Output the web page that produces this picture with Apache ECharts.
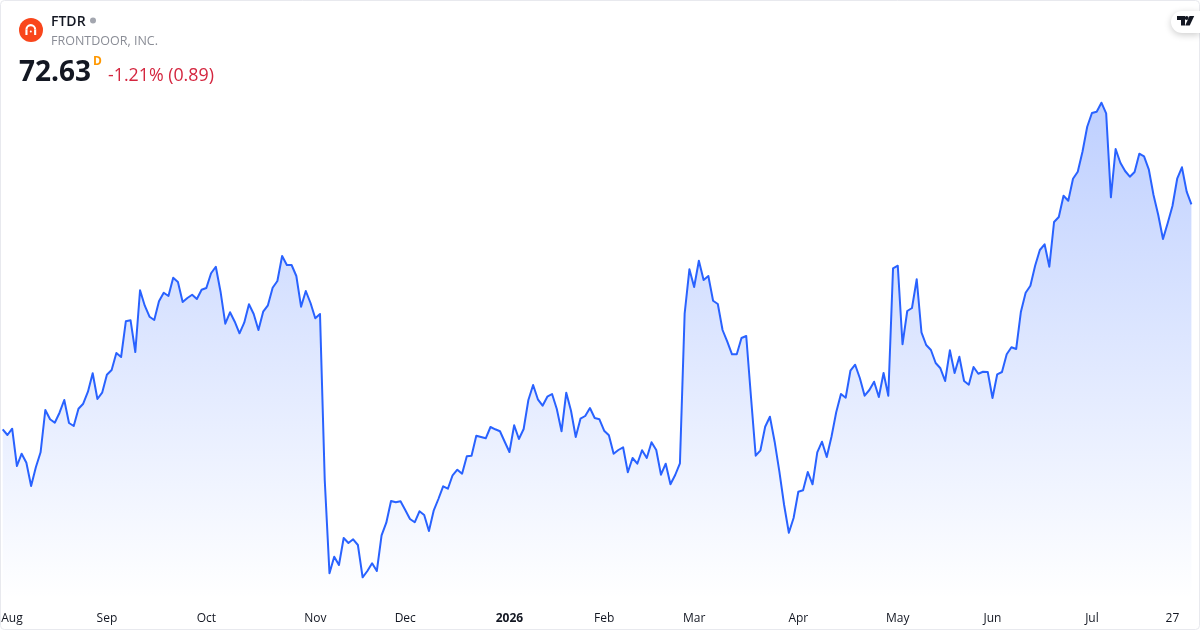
<!DOCTYPE html>
<html>
<head>
<meta charset="utf-8">
<style>html,body{margin:0;padding:0;background:#fff}#c{width:1200px;height:630px}</style>
<script src="https://cdn.jsdelivr.net/npm/echarts@6/dist/echarts.min.js"></script>
</head>
<body>
<div id="c"></div>
<script>
const prices = [
56.88,56.48,56.92,54.31,55.17,54.54,52.91,54.22,55.27,58.23,57.58,57.34,58.04,58.93,57.32,57.11,58.32,58.67,59.51,60.80,
59.00,59.44,60.70,61.03,62.22,61.94,64.44,64.51,62.29,66.61,65.53,64.76,64.53,65.84,66.44,66.21,67.49,67.19,65.79,66.07,
66.30,66.00,66.65,66.77,67.80,68.26,66.51,64.27,65.07,64.41,63.60,64.34,65.63,64.95,63.83,65.11,65.56,66.79,67.26,69.01,
68.38,68.38,67.61,65.46,66.56,65.72,64.65,64.95,53.33,46.80,47.96,47.38,49.27,48.92,49.18,48.78,46.52,46.96,47.50,46.96,
49.46,50.34,51.86,51.77,51.84,51.23,50.60,50.37,51.14,50.88,49.76,51.18,52.00,52.89,52.72,53.66,54.05,53.77,54.99,55.03,
56.43,56.34,56.25,57.04,56.88,56.74,56.01,55.29,57.16,56.20,56.90,58.93,59.98,58.98,58.53,59.16,59.35,58.30,56.74,59.44,
58.18,56.34,57.62,57.81,58.37,57.67,57.58,56.78,56.46,55.17,55.43,55.62,53.87,54.87,54.47,55.41,54.87,55.97,55.43,53.70,
54.47,53.03,53.68,54.50,65.00,68.08,66.84,68.68,67.33,67.61,65.88,65.65,63.83,63.01,62.13,62.13,63.27,63.41,59.16,55.03,
55.41,57.06,57.76,56.01,53.91,51.58,49.64,50.67,52.51,52.61,53.89,53.03,55.27,56.01,54.94,56.36,58.07,59.35,59.09,60.98,
61.40,60.45,59.23,59.63,60.21,59.14,60.82,59.23,68.15,68.33,62.83,65.16,65.37,67.38,63.67,62.78,62.43,61.52,61.15,60.26,
62.41,60.82,61.96,60.26,60.00,61.24,60.77,60.91,60.89,59.07,60.73,60.89,62.13,62.62,62.50,65.11,66.44,66.93,68.33,69.43,
69.83,68.26,71.39,71.74,73.23,72.88,74.42,74.91,76.31,78.06,79.02,79.11,79.74,79.00,73.12,76.50,75.54,74.96,74.56,74.89,
76.17,75.99,75.08,73.28,71.88,70.20,71.32,72.51,74.42,75.22,73.52,72.63
];
const tickPositions = [1,22,43,66,85,107,127,146,168,189,209,230,247];
const tickLabels = ['Aug','Sep','Oct','Nov','Dec','2026','Feb','Mar','Apr','May','Jun','Jul','27'];
const categories = prices.map((_, i) => {
  const t = tickPositions.indexOf(i);
  return t >= 0 ? tickLabels[t] : 'd' + i;
});
const symbolText = 'FTDR';
const companyText = 'FRONTDOOR, INC.';
const priceText = '72.63';
const changeText = '-1.21% (0.89)';

const FONT = '"Open Sans", sans-serif';
const chart = echarts.init(document.getElementById('c'), null, {renderer: 'canvas', width: 1200, height: 630});
chart.setOption({
  animation: false,
  backgroundColor: '#ffffff',
  grid: {left: 2.7, right: 8.6, top: -1, height: 600, containLabel: false, outerBoundsMode: 'none'},
  xAxis: {
    type: 'category',
    data: categories,
    boundaryGap: false,
    axisLine: {show: false},
    axisTick: {show: false},
    splitLine: {show: false},
    axisLabel: {
      interval: (i) => tickPositions.indexOf(i) >= 0,
      margin: 14,
      hideOverlap: false,
      color: '#131722',
      fontFamily: FONT,
      fontSize: 12,
      formatter: (v) => v === '2026' ? '{b|2026}' : (v === 'Aug' ? '{a|Aug}' : v),
      rich: {
        b: {fontWeight: 'bold', fontFamily: FONT, fontSize: 12, color: '#131722'},
        a: {fontFamily: FONT, fontSize: 12, color: '#131722', padding: [0, 0, 0, 9]}
      }
    }
  },
  yAxis: {type: 'value', min: 45, max: 87, show: false, splitLine: {show: false}},
  series: [{
    type: 'line',
    data: prices,
    showSymbol: false,
    smooth: false,
    clip: false,
    lineStyle: {color: '#2962ff', width: 2, join: 'round'},
    areaStyle: {
      origin: 'start',
      opacity: 1,
      color: new echarts.graphic.LinearGradient(0, 0, 0, 1, [
        {offset: 0, color: 'rgba(41,98,255,0.30)'},
        {offset: 1, color: 'rgba(41,98,255,0)'}
      ])
    }
  }],
  graphic: [
    {type: 'rect', silent: true, z: 50, shape: {x: 0.5, y: 0.5, width: 1199, height: 629, r: 4}, style: {fill: 'none', stroke: '#e8e9ee', lineWidth: 1}},
    {type: 'circle', z: 60, shape: {cx: 31, cy: 30, r: 12}, style: {fill: '#f9461c'}},
    {type: 'sector', z: 61, shape: {cx: 30.8, cy: 29.5, r: 5.4, r0: 3.3, startAngle: Math.PI, endAngle: Math.PI * 2, clockwise: true}, style: {fill: '#ffffff'}},
    {type: 'rect', z: 61, shape: {x: 25.4, y: 29.5, width: 2.1, height: 5.5}, style: {fill: '#ffffff'}},
    {type: 'rect', z: 61, shape: {x: 34.1, y: 29.5, width: 2.1, height: 5.5}, style: {fill: '#ffffff'}},
    {type: 'circle', z: 61, shape: {cx: 30.8, cy: 31.5, r: 1}, style: {fill: '#ffffff'}},
    {type: 'text', z: 60, x: 51, y: 15, style: {text: symbolText, font: '600 14px ' + FONT, fill: '#131722'}},
    {type: 'circle', z: 60, shape: {cx: 93, cy: 20.5, r: 3}, style: {fill: '#a3a6af'}},
    {type: 'text', z: 60, x: 51, y: 35, style: {text: companyText, font: '12.5px ' + FONT, fill: '#8a8d96'}},
    {type: 'text', z: 60, x: 19, y: 59, style: {text: priceText, font: '700 28px ' + FONT, fill: '#131722'}},
    {type: 'text', z: 60, x: 93, y: 56, style: {text: 'D', font: '700 12px ' + FONT, fill: '#ff9800'}},
    {type: 'text', z: 60, x: 108, y: 67, style: {text: changeText, font: '17.8px ' + FONT, fill: '#d4263f'}},
    {type: 'rect', z: 62, shape: {x: 1171, y: 11, width: 29, height: 22, r: [11, 0, 0, 11]}, style: {fill: '#ffffff', shadowBlur: 7, shadowColor: 'rgba(0,0,0,0.2)', shadowOffsetY: 2}},
    {type: 'polygon', z: 63, shape: {points: [[1177, 16], [1185, 16], [1185, 25.5], [1181, 25.5], [1181, 20], [1177, 20]]}, style: {fill: '#131722'}},
    {type: 'circle', z: 63, shape: {cx: 1186.7, cy: 18, r: 2}, style: {fill: '#131722'}},
    {type: 'polygon', z: 63, shape: {points: [[1189.5, 16], [1194.2, 16], [1189.7, 25.5], [1185.2, 25.5]]}, style: {fill: '#131722'}}
  ]
});
</script>
</body>
</html>
